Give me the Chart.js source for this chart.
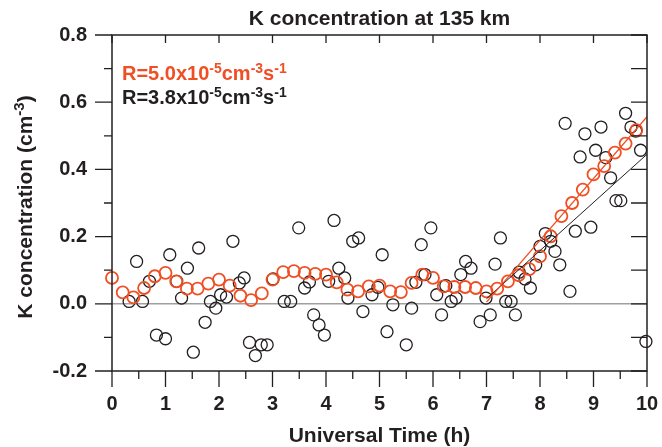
<!DOCTYPE html>
<html>
<head>
<meta charset="utf-8">
<script src="https://cdn.jsdelivr.net/npm/chart.js@4.4.0/dist/chart.umd.min.js"></script>
<style>
body{margin:0;background:#fff;}
canvas{display:block;}
</style>
</head>
<body>
<canvas id="kChart" width="662" height="447"></canvas>
<script>
// observed K concentration (black circles)
var obsTime = [0.32,0.46,0.57,0.70,0.83,1.00,1.08,1.21,1.30,1.41,1.52,1.62,1.74,1.84,1.94,2.03,2.14,2.26,2.38,2.47,
  2.57,2.68,2.79,2.90,3.01,3.22,3.34,3.49,3.60,3.69,3.77,3.87,3.97,4.05,4.15,4.24,4.35,4.41,4.50,4.61,
  4.69,4.86,4.97,5.05,5.14,5.25,5.50,5.60,5.68,5.78,5.85,5.96,6.07,6.16,6.24,6.34,6.43,6.52,6.61,6.71,
  6.88,6.99,7.07,7.16,7.26,7.36,7.46,7.54,7.61,7.72,7.82,7.92,8.00,8.10,8.20,8.28,8.37,8.47,8.56,8.66,
  8.75,8.84,8.95,9.04,9.14,9.23,9.32,9.42,9.51,9.60,9.70,9.79,9.88,9.98];
var obsConc = [0.007,0.126,0.007,0.067,-0.093,-0.104,0.146,0.067,0.017,0.106,-0.144,0.166,-0.055,0.007,-0.013,0.027,0.020,0.186,0.062,0.077,
  -0.115,-0.154,-0.122,-0.122,0.074,0.007,0.007,0.226,0.047,0.065,-0.033,-0.063,-0.093,0.067,0.248,0.106,0.077,0.017,0.186,0.196,
  -0.023,0.027,0.049,0.146,-0.083,-0.003,-0.122,-0.013,0.064,0.176,0.087,0.226,0.027,-0.033,0.054,0.007,0.017,0.087,0.126,0.106,
  -0.053,0.017,-0.033,0.118,0.196,0.007,0.007,-0.033,0.094,0.074,0.047,0.116,0.171,0.209,0.186,0.156,0.116,0.537,0.037,0.216,
  0.437,0.506,0.228,0.457,0.526,0.435,0.375,0.307,0.307,0.567,0.526,0.514,0.457,-0.112];

// model, R=5.0x10-5 (orange circles)
var modelTime = [0.0,0.2,0.4,0.6,0.8,1.0,1.2,1.4,1.6,1.8,2.0,2.2,2.4,2.6,2.8,3.0,3.2,3.4,3.6,3.8,
  4.0,4.2,4.4,4.6,4.8,5.0,5.2,5.4,5.6,5.8,6.0,6.2,6.4,6.6,6.8,7.0,7.2,7.4,7.6,7.8,
  8.0,8.2,8.4,8.6,8.8,9.0,9.2,9.4,9.6,9.8];
var modelConc = [0.077,0.034,0.019,0.047,0.082,0.092,0.067,0.045,0.045,0.060,0.072,0.054,0.024,0.011,0.031,0.072,0.094,0.097,0.092,0.089,
  0.087,0.064,0.042,0.037,0.052,0.054,0.037,0.035,0.062,0.087,0.077,0.052,0.050,0.050,0.047,0.037,0.045,0.067,0.085,0.103,
  0.141,0.201,0.261,0.300,0.340,0.385,0.410,0.450,0.477,0.517];

// straight fits after 7 UT
var fitTime = [7.0, 10.0];
var fitBlack = [0.015, 0.445];
var fitOrange = [0.005, 0.557];

var xTickValues = [0,1,2,3,4,5,6,7,8,9,10];
var yTickValues = [-0.2,0.0,0.2,0.4,0.6,0.8];

var chartTitle = "K concentration at 135 km";
var xTitle = "Universal Time (h)";
var yTitle = [{t:"K concentration (cm"},{t:"-3",sup:true},{t:")"}];
var labelOrange = [{t:"R=5.0x10"},{t:"-5",sup:true},{t:"cm"},{t:"-3",sup:true},{t:"s"},{t:"-1",sup:true}];
var labelBlack = [{t:"R=3.8x10"},{t:"-5",sup:true},{t:"cm"},{t:"-3",sup:true},{t:"s"},{t:"-1",sup:true}];

var ink = "#231f20";
var orange = "#f04e23";
var fontFam = 'Arial, "Liberation Sans", sans-serif';

function pairs(xs, ys){
    var out = [];
    for(var i = 0; i < xs.length; i++){
        out.push({x: xs[i], y: ys[i]});
    }
    return out;
}

function richText(ctx, parts, x, y, size, color, measureOnly){
    var cx = x;
    ctx.fillStyle = color;
    ctx.textAlign = "left";
    ctx.textBaseline = "alphabetic";
    for(var i = 0; i < parts.length; i++){
        var p = parts[i];
        var s = p.sup ? Math.round(size * 0.7) : size;
        ctx.font = "bold " + s + "px " + fontFam;
        if(!measureOnly){
            ctx.fillText(p.t, cx, p.sup ? y - size * 0.37 : y);
        }
        cx += ctx.measureText(p.t).width;
    }
    return cx - x;
}

//frame, ticks, zero line and texts
var decorations = {
    id: "decorations",
    beforeDatasetsDraw(chart){
        var ctx = chart.ctx, a = chart.chartArea;
        var y0 = chart.scales.y.getPixelForValue(0);
        ctx.save();
        ctx.strokeStyle = "#a0a0a0";
        ctx.lineWidth = 1.5;
        ctx.beginPath();
        ctx.moveTo(a.left, y0);
        ctx.lineTo(a.right, y0);
        ctx.stroke();
        ctx.restore();
    },
    afterDraw(chart){
        var ctx = chart.ctx, a = chart.chartArea;
        var xs = chart.scales.x, ys = chart.scales.y;
        ctx.save();
        ctx.strokeStyle = ink;
        ctx.lineWidth = 1.5;
        ctx.strokeRect(a.left, a.top, a.right - a.left, a.bottom - a.top);
        ctx.lineWidth = 1.3;
        ctx.beginPath();
        // bottom (outward) and top (inward) ticks
        for(var i = 0; i <= 20; i++){
            var px = xs.getPixelForValue(i / 2);
            var major = i % 2 == 0;
            ctx.moveTo(px, a.bottom);
            ctx.lineTo(px, a.bottom + (major ? 16 : 8));
            if(major){
                ctx.moveTo(px, a.top);
                ctx.lineTo(px, a.top + 8);
            }
        }
        // left (outward) and right (inward) ticks
        for(var j = -2; j <= 8; j++){
            var py = ys.getPixelForValue(j / 10);
            var maj = j % 2 == 0;
            ctx.moveTo(a.left, py);
            ctx.lineTo(a.left - (maj ? 17 : 8), py);
            ctx.moveTo(a.right, py);
            ctx.lineTo(a.right - 16, py);
        }
        ctx.stroke();

        var cxm = (a.left + a.right) / 2;
        ctx.fillStyle = ink;
        ctx.font = "bold 21px " + fontFam;
        ctx.textAlign = "center";
        ctx.textBaseline = "alphabetic";
        ctx.fillText(chartTitle, cxm, 25);
        ctx.fillText(xTitle, cxm, 442);

        // y title, rotated
        var w = richText(ctx, yTitle, 0, 0, 21, ink, true);
        ctx.save();
        ctx.translate(32, 207 + w / 2);
        ctx.rotate(-Math.PI / 2);
        richText(ctx, yTitle, 0, 0, 21, ink);
        ctx.restore();

        richText(ctx, labelOrange, 122, 80, 20, orange);
        richText(ctx, labelBlack, 122, 104, 20, ink);
        ctx.restore();
    }
};

new Chart(document.getElementById("kChart"), {
    type: "scatter",
    data: {
        datasets: [
            {
                data: pairs(fitTime, fitOrange),
                showLine: true,
                borderColor: orange,
                borderWidth: 1.3,
                pointRadius: 0
            },
            {
                data: pairs(fitTime, fitBlack),
                showLine: true,
                borderColor: ink,
                borderWidth: 1,
                pointRadius: 0
            },
            {
                data: pairs(modelTime, modelConc),
                pointRadius: 6,
                pointBorderWidth: 1.8,
                pointBorderColor: orange,
                pointBackgroundColor: "rgba(0,0,0,0)",
                clip: false
            },
            {
                data: pairs(obsTime, obsConc),
                pointRadius: 6,
                pointBorderWidth: 1.3,
                pointBorderColor: ink,
                pointBackgroundColor: "rgba(0,0,0,0)",
                clip: false
            }
        ]
    },
    options: {
        responsive: false,
        animation: false,
        devicePixelRatio: 1,
        layout: {padding: {top: 35, right: 15, left: 0, bottom: 0}},
        plugins: {legend: {display: false}, tooltip: {enabled: false}},
        scales: {
            x: {
                type: "linear",
                min: 0,
                max: 10,
                afterBuildTicks: function(s){ s.ticks = xTickValues.map(function(v){ return {value: v}; }); },
                afterFit: function(s){ s.height = 76; s.paddingLeft = 0; s.paddingRight = 0; },
                grid: {display: false, drawTicks: false},
                border: {display: false},
                ticks: {
                    color: ink,
                    font: {family: fontFam, size: 20, weight: "bold"},
                    padding: 21,
                    maxRotation: 0,
                    callback: function(v){ return String(v); }
                }
            },
            y: {
                type: "linear",
                min: -0.2,
                max: 0.8,
                afterBuildTicks: function(s){ s.ticks = yTickValues.map(function(v){ return {value: v}; }); },
                afterFit: function(s){ s.width = 112; s.paddingTop = 0; s.paddingBottom = 0; },
                grid: {display: false, drawTicks: false},
                border: {display: false},
                ticks: {
                    color: ink,
                    font: {family: fontFam, size: 20, weight: "bold"},
                    padding: 25,
                    callback: function(v){ return v.toFixed(1); }
                }
            }
        }
    },
    plugins: [decorations]
});
</script>
</body>
</html>
